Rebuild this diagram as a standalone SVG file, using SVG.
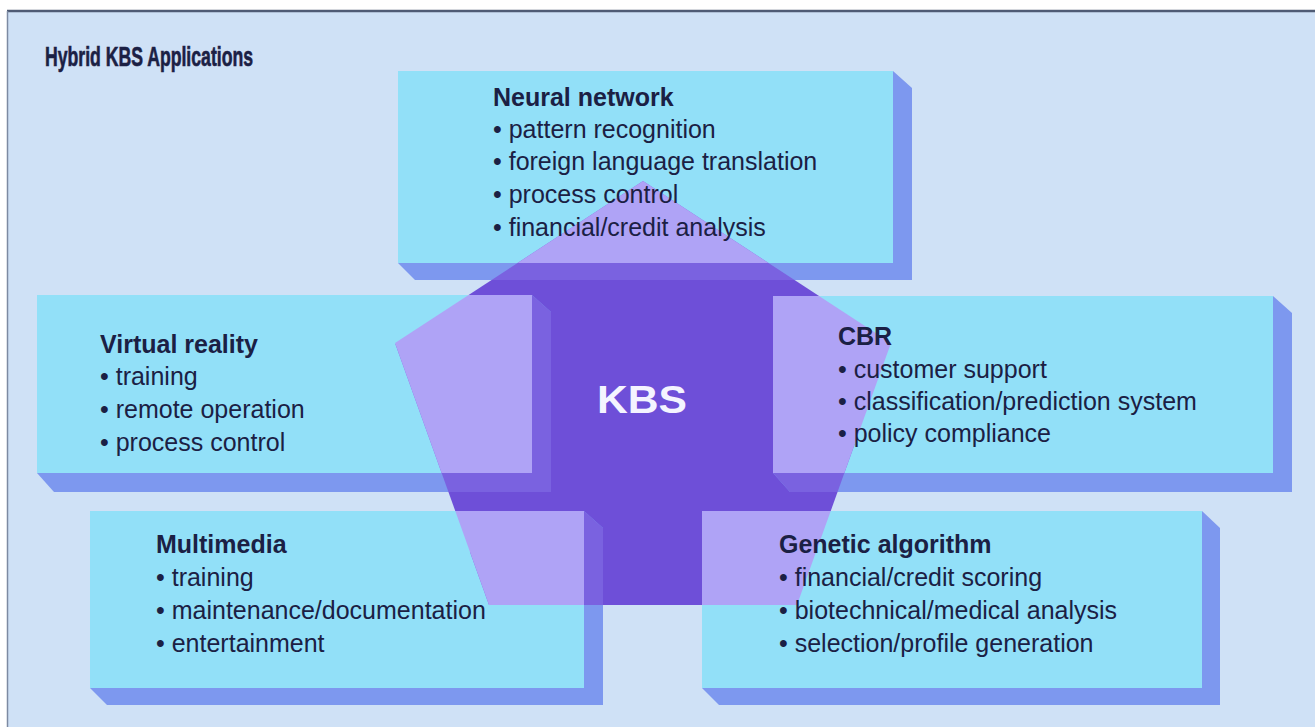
<svg xmlns="http://www.w3.org/2000/svg" width="1315" height="727" viewBox="0 0 1315 727">
<style>
.bg{fill:#cfe1f6}
.face{fill:#92e0f8}
.side{fill:#7d98ef}
.pface{fill:#afa3f6}
.pside{fill:#7a62e0}
.kbs{fill:#6e4fd8}
.t{font-family:"Liberation Sans",Arial,Helvetica,sans-serif;font-size:25px;fill:#1b2044}
.h{font-weight:bold}
.frame{stroke:#4f5b74;fill:none}
</style>
<defs>
<clipPath id="pent"><polygon points="643,181 891,343 797,605 489,605 395,343"/></clipPath>
</defs>
<rect x="0" y="0" width="1315" height="727" fill="#ffffff"/>
<rect class="bg" x="7" y="11" width="1308" height="716"/>
<line class="frame" x1="7" y1="11" x2="1315" y2="11" stroke-width="2.5"/>
<line class="frame" x1="7.5" y1="11" x2="7.5" y2="727" stroke-width="1.5" style="stroke:#7d8aa2"/>
<text x="45" y="66" style="font-family:'Liberation Sans',Arial,sans-serif;font-weight:bold;font-size:27px;fill:#1b2044;stroke:#1b2044;stroke-width:0.6" textLength="208" lengthAdjust="spacingAndGlyphs">Hybrid KBS Applications</text>

<g id="kbs">
<polygon class="kbs" points="643,181 891,343 797,605 489,605 395,343"/>
<text x="642" y="413" text-anchor="middle" style="font-family:'Liberation Sans',Arial,sans-serif;font-weight:bold;font-size:38px;fill:#f4f4ff" textLength="90" lengthAdjust="spacingAndGlyphs">KBS</text>
</g>

<g id="connectors"></g>

<g id="neural-network">
<polygon class="side" points="893,71 912,88 912,280 415,280 398,263"/>
<rect class="face" x="398" y="71" width="495" height="192"/>
<g clip-path="url(#pent)">
<polygon class="pside" points="893,71 912,88 912,280 415,280 398,263"/>
<rect class="pface" x="398" y="71" width="495" height="192"/>
</g>
<text class="t h" x="493" y="106">Neural network</text>
<text class="t" x="493" y="138">• pattern recognition</text>
<text class="t" x="493" y="170">• foreign language translation</text>
<text class="t" x="493" y="203">• process control</text>
<text class="t" x="493" y="236">• financial/credit analysis</text>
</g>

<g id="virtual-reality">
<polygon class="side" points="532,295 551,312 551,492 54,492 37,473"/>
<rect class="face" x="37" y="295" width="495" height="178"/>
<g clip-path="url(#pent)">
<polygon class="pside" points="532,295 551,312 551,492 54,492 37,473"/>
<rect class="pface" x="37" y="295" width="495" height="178"/>
</g>
<text class="t h" x="100" y="353">Virtual reality</text>
<text class="t" x="100" y="385">• training</text>
<text class="t" x="100" y="418">• remote operation</text>
<text class="t" x="100" y="451">• process control</text>
</g>

<g id="cbr">
<polygon class="side" points="1273,296 1292,313 1292,492 790,492 773,473"/>
<rect class="face" x="773" y="296" width="500" height="177"/>
<g clip-path="url(#pent)">
<polygon class="pside" points="1273,296 1292,313 1292,492 790,492 773,473"/>
<rect class="pface" x="773" y="296" width="500" height="177"/>
</g>
<text class="t h" x="838" y="345">CBR</text>
<text class="t" x="838" y="378">• customer support</text>
<text class="t" x="838" y="410">• classification/prediction system</text>
<text class="t" x="838" y="442">• policy compliance</text>
</g>

<g id="multimedia">
<polygon class="side" points="584,511 603,528 603,705 107,705 90,688"/>
<rect class="face" x="90" y="511" width="494" height="177"/>
<g clip-path="url(#pent)">
<polygon class="pside" points="584,511 603,528 603,705 107,705 90,688"/>
<rect class="pface" x="90" y="511" width="494" height="177"/>
</g>
<text class="t h" x="156" y="553">Multimedia</text>
<text class="t" x="156" y="586">• training</text>
<text class="t" x="156" y="619">• maintenance/documentation</text>
<text class="t" x="156" y="652">• entertainment</text>
</g>

<g id="genetic-algorithm">
<polygon class="side" points="1202,511 1220,528 1220,705 719,705 702,688"/>
<rect class="face" x="702" y="511" width="500" height="177"/>
<g clip-path="url(#pent)">
<polygon class="pside" points="1202,511 1220,528 1220,705 719,705 702,688"/>
<rect class="pface" x="702" y="511" width="500" height="177"/>
</g>
<text class="t h" x="779" y="553">Genetic algorithm</text>
<text class="t" x="779" y="586">• financial/credit scoring</text>
<text class="t" x="779" y="619">• biotechnical/medical analysis</text>
<text class="t" x="779" y="652">• selection/profile generation</text>
</g>
</svg>
